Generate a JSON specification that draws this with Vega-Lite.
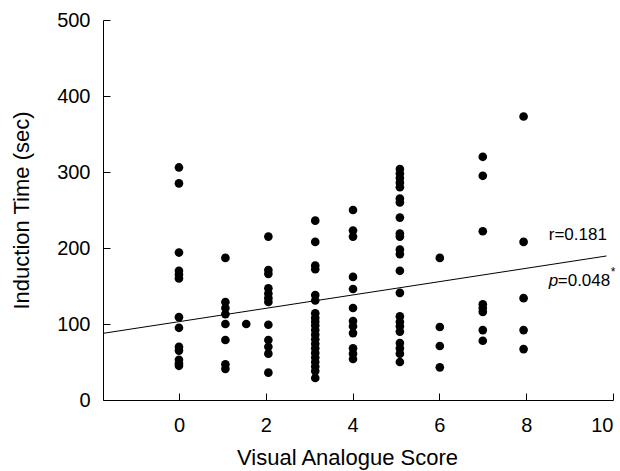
{
  "$schema": "https://vega.github.io/schema/vega-lite/v6.json",
  "width": 510,
  "height": 380,
  "autosize": "none",
  "padding": {"left": 103, "top": 20, "right": 7, "bottom": 71},
  "background": "white",
  "config": {
    "view": {"stroke": null},
    "font": "Liberation Sans",
    "axis": {
      "grid": false,
      "domainColor": "black",
      "domainWidth": 1,
      "tickColor": "black",
      "tickSize": -7,
      "tickWidth": 1,
      "labelColor": "black",
      "labelFont": "Liberation Sans",
      "labelFontSize": 20,
      "titleColor": "black",
      "titleFont": "Liberation Sans",
      "titleFontSize": 22,
      "titleFontWeight": "normal"
    }
  },
  "datasets": {
    "points": [
      {"score": 0, "time": 306}, {"score": 0, "time": 285}, {"score": 0, "time": 194},
      {"score": 0, "time": 170}, {"score": 0, "time": 165}, {"score": 0, "time": 160},
      {"score": 0, "time": 109}, {"score": 0, "time": 95}, {"score": 0, "time": 70},
      {"score": 0, "time": 65}, {"score": 0, "time": 53}, {"score": 0, "time": 48},
      {"score": 0, "time": 45},
      {"score": 1.07, "time": 187}, {"score": 1.07, "time": 129}, {"score": 1.07, "time": 121},
      {"score": 1.07, "time": 113}, {"score": 1.07, "time": 100}, {"score": 1.07, "time": 79},
      {"score": 1.07, "time": 47}, {"score": 1.07, "time": 41},
      {"score": 1.55, "time": 100},
      {"score": 2.06, "time": 215}, {"score": 2.06, "time": 171}, {"score": 2.06, "time": 166},
      {"score": 2.06, "time": 147}, {"score": 2.06, "time": 140}, {"score": 2.06, "time": 134},
      {"score": 2.06, "time": 129}, {"score": 2.06, "time": 99}, {"score": 2.06, "time": 79},
      {"score": 2.06, "time": 70}, {"score": 2.06, "time": 61}, {"score": 2.06, "time": 36},
      {"score": 3.14, "time": 236}, {"score": 3.14, "time": 208}, {"score": 3.14, "time": 177},
      {"score": 3.14, "time": 172}, {"score": 3.14, "time": 138}, {"score": 3.14, "time": 131},
      {"score": 3.14, "time": 114}, {"score": 3.14, "time": 108}, {"score": 3.14, "time": 103},
      {"score": 3.14, "time": 98}, {"score": 3.14, "time": 92}, {"score": 3.14, "time": 86},
      {"score": 3.14, "time": 80}, {"score": 3.14, "time": 74}, {"score": 3.14, "time": 68},
      {"score": 3.14, "time": 62}, {"score": 3.14, "time": 56}, {"score": 3.14, "time": 50},
      {"score": 3.14, "time": 44}, {"score": 3.14, "time": 38}, {"score": 3.14, "time": 29},
      {"score": 4.01, "time": 250}, {"score": 4.01, "time": 223}, {"score": 4.01, "time": 215},
      {"score": 4.01, "time": 162}, {"score": 4.01, "time": 146}, {"score": 4.01, "time": 121},
      {"score": 4.01, "time": 104}, {"score": 4.01, "time": 97}, {"score": 4.01, "time": 88},
      {"score": 4.01, "time": 68}, {"score": 4.01, "time": 61}, {"score": 4.01, "time": 54},
      {"score": 5.09, "time": 304}, {"score": 5.09, "time": 298}, {"score": 5.09, "time": 292},
      {"score": 5.09, "time": 286}, {"score": 5.09, "time": 280}, {"score": 5.09, "time": 265},
      {"score": 5.09, "time": 260}, {"score": 5.09, "time": 240}, {"score": 5.09, "time": 219},
      {"score": 5.09, "time": 215}, {"score": 5.09, "time": 198}, {"score": 5.09, "time": 192},
      {"score": 5.09, "time": 170}, {"score": 5.09, "time": 141}, {"score": 5.09, "time": 110},
      {"score": 5.09, "time": 103}, {"score": 5.09, "time": 97}, {"score": 5.09, "time": 90},
      {"score": 5.09, "time": 75}, {"score": 5.09, "time": 68}, {"score": 5.09, "time": 61},
      {"score": 5.09, "time": 50},
      {"score": 6.01, "time": 187}, {"score": 6.01, "time": 96}, {"score": 6.01, "time": 71},
      {"score": 6.01, "time": 43},
      {"score": 7.0, "time": 320}, {"score": 7.0, "time": 295}, {"score": 7.0, "time": 222},
      {"score": 7.0, "time": 126}, {"score": 7.0, "time": 121}, {"score": 7.0, "time": 116},
      {"score": 7.0, "time": 92}, {"score": 7.0, "time": 78},
      {"score": 7.94, "time": 373}, {"score": 7.94, "time": 208}, {"score": 7.94, "time": 134},
      {"score": 7.94, "time": 92}, {"score": 7.94, "time": 67}
    ],
    "fit": [
      {"score": -1.75, "time": 87.7},
      {"score": 9.85, "time": 189.5}
    ],
    "stats": [
      {"score": 8.52, "time": 217, "label": "r=0.181"}
    ],
    "pval": [
      {"score": 8.52, "time": 156, "p": "p", "rest": "=0.048", "star": "*"}
    ]
  },
  "encoding": {
    "x": {
      "field": "score",
      "type": "quantitative",
      "scale": {"domain": [-1.75, 10], "nice": false, "zero": false},
      "axis": {"values": [0, 2, 4, 6, 8, 10], "title": "Visual Analogue Score", "labelPadding": 22, "titlePadding": 12, "titleX": 244}
    },
    "y": {
      "field": "time",
      "type": "quantitative",
      "scale": {"domain": [0, 500], "nice": false},
      "axis": {"values": [0, 100, 200, 300, 400, 500], "title": "Induction Time (sec)", "labelPadding": 20, "titlePadding": 23}
    }
  },
  "layer": [
    {
      "data": {"name": "fit"},
      "mark": {"type": "line", "color": "black", "strokeWidth": 1},
      "encoding": {}
    },
    {
      "data": {"name": "points"},
      "mark": {"type": "circle", "color": "black", "opacity": 1, "size": 75}
    },
    {
      "data": {"name": "stats"},
      "mark": {"type": "text", "align": "left", "baseline": "middle", "fontSize": 17, "color": "black"},
      "encoding": {"text": {"field": "label"}}
    },
    {
      "data": {"name": "pval"},
      "mark": {"type": "text", "align": "left", "baseline": "middle", "fontSize": 17, "fontStyle": "italic", "color": "black"},
      "encoding": {"text": {"field": "p"}}
    },
    {
      "data": {"name": "pval"},
      "mark": {"type": "text", "align": "left", "baseline": "middle", "fontSize": 17, "dx": 9, "color": "black"},
      "encoding": {"text": {"field": "rest"}}
    },
    {
      "data": {"name": "pval"},
      "mark": {"type": "text", "align": "left", "baseline": "middle", "fontSize": 12, "dx": 62, "dy": -9, "color": "black"},
      "encoding": {"text": {"field": "star"}}
    }
  ]
}
